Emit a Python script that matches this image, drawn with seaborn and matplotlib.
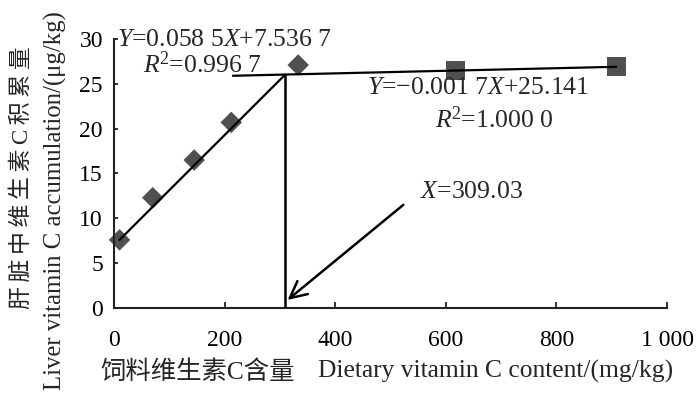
import matplotlib
matplotlib.use("Agg")
import matplotlib.pyplot as plt
import seaborn as sns
import pandas as pd

# ---- data ----
diamond_x = [10, 70, 145, 212, 333]
diamond_y = [7.6, 12.3, 16.5, 20.7, 27.1]
square_x = [617, 908]
square_y = [26.5, 26.9]
fit1_x = [10, 309.03]
fit1_y = [7.6, 26.0]
fit2_x = [215, 908]
fit2_y = [25.9, 26.9]
break_x = 309.03
break_y = 26.0
x_ticks = [0, 200, 400, 600, 800, 1000]
x_tick_labels = ["0", "200", "400", "600", "800", "1 000"]
y_ticks = [0, 5, 10, 15, 20, 25, 30]
y_tick_labels = ["0", "5", "10", "15", "20", "25", "30"]
eq1 = "$Y$=0.058 5$X$+7.536 7"
r2_1 = "$R$$^{2}$=0.996 7"
eq2 = "$Y$=\u22120.001 7$X$+25.141"
r2_2 = "$R$$^{2}$=1.000 0"
x_break_label = "$X$=309.03"
ylabel_cn = "肝脏中维生素C积累量"
ylabel_en = "Liver vitamin C accumulation/(μg/kg)"
xlabel_cn = "饲料维生素C含量"
xlabel_en = "Dietary vitamin C content/(mg/kg)"

sns.set_theme(style="white")
plt.rcParams["font.family"] = ["Liberation Serif", "Noto Sans CJK SC", "DejaVu Sans"]
plt.rcParams["mathtext.fontset"] = "custom"
plt.rcParams["mathtext.rm"] = "Liberation Serif"
plt.rcParams["mathtext.it"] = "Liberation Serif:italic"
plt.rcParams["axes.unicode_minus"] = True

FS = 17
FT = 18.5
fig = plt.figure(figsize=(7.0, 3.94), dpi=100)
ax = fig.add_axes([0.1629, 0.2183, 0.7900, 0.6827])

df_d = pd.DataFrame({"x": diamond_x, "y": diamond_y})
df_s = pd.DataFrame({"x": square_x, "y": square_y})
df_f1 = pd.DataFrame({"x": fit1_x, "y": fit1_y})
df_f2 = pd.DataFrame({"x": fit2_x, "y": fit2_y})

mk = "#505050"
sns.lineplot(data=df_f1, x="x", y="y", ax=ax, color="black", lw=1.6, sort=False, zorder=3)
sns.lineplot(data=df_f2, x="x", y="y", ax=ax, color="black", lw=1.6, sort=False, zorder=3)
sns.scatterplot(data=df_d, x="x", y="y", ax=ax, marker="D", s=120, color=mk,
                edgecolor="none", zorder=2, clip_on=False)
sns.scatterplot(data=df_s, x="x", y="y", ax=ax, marker="s", s=190, color=mk,
                edgecolor="none", zorder=2, clip_on=False)
ax.plot([break_x, break_x], [0, break_y], color="black", lw=1.8, zorder=3)

ax.annotate("", xy=(310, 0.7), xytext=(527, 11.7),
            arrowprops=dict(arrowstyle="->", lw=1.8, color="black", mutation_scale=30))

ax.text(6, 29.9, eq1, fontsize=FT, ha="left", va="center")
ax.text(52, 27.1, r2_1, fontsize=FT, ha="left", va="center")
ax.text(458, 24.5, eq2, fontsize=FT, ha="left", va="center")
ax.text(580, 21.0, r2_2, fontsize=FT, ha="left", va="center")
ax.text(554, 12.9, x_break_label, fontsize=FT, ha="left", va="center")

ax.set_xlim(0, 1000)
ax.set_ylim(0, 30)
ax.set_xticks(x_ticks)
ax.set_xticklabels(x_tick_labels)
ax.set_yticks(y_ticks)
ax.set_yticklabels(y_tick_labels)
ax.set_xlabel("")
ax.set_ylabel("")
for s in ["top", "right"]:
    ax.spines[s].set_visible(False)
for s in ["left", "bottom"]:
    ax.spines[s].set_color("#222222")
    ax.spines[s].set_linewidth(1.5)
ax.tick_params(axis="x", direction="in", length=4, width=1.3, pad=16, labelsize=FS,
               bottom=True, colors="#222222", labelcolor="black")
ax.tick_params(axis="y", direction="in", length=3, width=1.3, pad=8, labelsize=FS,
               left=True, colors="#222222", labelcolor="black")

fig.text(0.031, 0.55, "\u2009".join(ylabel_cn), rotation=90, fontsize=16.5,
         ha="center", va="center")
fig.text(0.079, 0.49, ylabel_en, rotation=90, fontsize=17.8, ha="center", va="center")
fig.text(0.143, 0.056, xlabel_cn, fontsize=18.3, ha="left", va="center")
fig.text(0.455, 0.056, xlabel_en, fontsize=18.4, ha="left", va="center")

fig.savefig("out.png", dpi=100)
